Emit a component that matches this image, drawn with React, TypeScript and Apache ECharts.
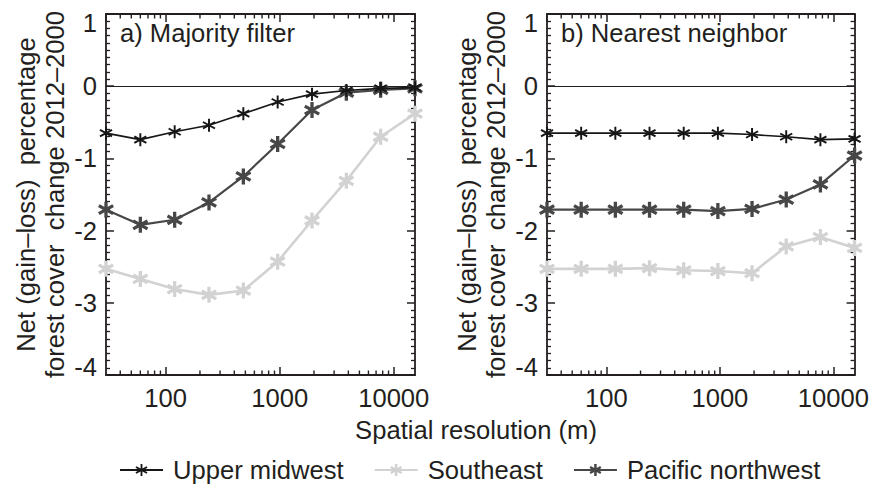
import React, { useEffect, useRef } from "react";
import * as echarts from "echarts";

// ---- data ----
const resolutions = [30, 60, 120, 240, 480, 960, 1920, 3840, 7680, 15360];
const seriesNames = ["Upper midwest", "Southeast", "Pacific northwest"];
const panelTitles = ["a) Majority filter", "b) Nearest neighbor"];

const majorityUpperMidwest = [-0.65, -0.74, -0.63, -0.54, -0.38, -0.22, -0.11, -0.06, -0.03, -0.02];
const majoritySoutheast = [-2.53, -2.67, -2.81, -2.89, -2.83, -2.43, -1.86, -1.31, -0.70, -0.38];
const majorityPacificNW = [-1.71, -1.92, -1.85, -1.61, -1.25, -0.80, -0.33, -0.09, -0.05, -0.03];

const nearestUpperMidwest = [-0.65, -0.65, -0.65, -0.65, -0.65, -0.65, -0.67, -0.70, -0.74, -0.73];
const nearestSoutheast = [-2.53, -2.53, -2.53, -2.52, -2.55, -2.56, -2.59, -2.22, -2.09, -2.24];
const nearestPacificNW = [-1.71, -1.71, -1.71, -1.71, -1.71, -1.73, -1.70, -1.57, -1.36, -0.96];

const minorXTicks = [40, 50, 60, 70, 80, 90, 200, 300, 400, 500, 600, 700, 800, 900, 2000, 3000, 4000, 5000, 6000, 7000, 8000, 9000];

const X_MIN = 30;
const X_MAX = 15360;
const Y_MIN = -4;
const Y_MAX = 1;

const yAxisName = "Net (gain\u2013loss)  percentage\nforest cover  change 2012\u20132000";
const xAxisName = "Spatial resolution (m)";

// ---- styles ----
const FONT = "Liberation Sans, Arial, Helvetica, sans-serif";
const TXT = "#231f20";
const FRAME = "#231f20";
const FS = 25.6;

const seriesStyles: Record<string, { color: string; width: number; size: number; arm: number }> = {
  "Upper midwest": { color: "#161616", width: 1.6, size: 13, arm: 7 },
  Southeast: { color: "#d2d2d2", width: 2.6, size: 16, arm: 10 },
  "Pacific northwest": { color: "#474747", width: 2.2, size: 16, arm: 10 },
};

function asteriskPath(h: number): string {
  const parts: string[] = [];
  for (const deg of [90, 30, 150]) {
    const t = (deg * Math.PI) / 180;
    const c = Math.cos(t);
    const s = Math.sin(t);
    const pts = [
      [-50, -h],
      [50, -h],
      [50, h],
      [-50, h],
    ].map(([u, v]) => [50 + u * c - v * s, 50 + u * s + v * c]);
    parts.push("M" + pts.map((p) => p[0].toFixed(2) + " " + p[1].toFixed(2)).join(" L") + " Z");
  }
  return "path://" + parts.join(" ");
}

const panels = [
  { left: 106, values: [majorityUpperMidwest, majoritySoutheast, majorityPacificNW] },
  { left: 547, values: [nearestUpperMidwest, nearestSoutheast, nearestPacificNW] },
];

export default function App() {
  const ref = useRef<HTMLDivElement>(null);
  useEffect(() => {
    if (!ref.current) return;
    const chart = echarts.init(ref.current, undefined, { renderer: "svg" });

    const grids: any[] = [];
    const xAxes: any[] = [];
    const yAxes: any[] = [];
    const series: any[] = [];
    const graphics: any[] = [];

    panels.forEach((p, gi) => {
      grids.push({ left: p.left, top: 14, width: 309, height: 361, containLabel: false });
      const xBase = {
        type: "log",
        logBase: 10,
        min: X_MIN,
        max: X_MAX,
        gridIndex: gi,
        splitLine: { show: false },
        axisLine: { show: true, onZero: false, lineStyle: { color: FRAME, width: 1.8 } },
        axisTick: { show: true, inside: true, length: 8, lineStyle: { color: FRAME, width: 1.5 } },
        minorTick: { show: false },
      };
      xAxes.push({
        ...xBase,
        position: "bottom",
        axisLabel: {
          show: true,
          margin: 10,
          fontSize: FS,
          fontFamily: FONT,
          color: TXT,
          showMinLabel: false,
          showMaxLabel: false,
          formatter: (v: number) => String(Math.round(v)),
        },
      });
      xAxes.push({ ...xBase, position: "top", axisLabel: { show: false } });

      const yBase = {
        type: "value",
        min: Y_MIN,
        max: Y_MAX,
        interval: 1,
        gridIndex: gi,
        splitLine: { show: false },
        axisLine: { show: true, onZero: false, lineStyle: { color: FRAME, width: 1.8 } },
        axisTick: { show: true, inside: true, length: 8, lineStyle: { color: FRAME, width: 1.5 } },
        minorTick: { show: true, splitNumber: 10, length: 4, lineStyle: { color: FRAME, width: 1.3 } },
      };
      yAxes.push({
        ...yBase,
        position: "left",
        name: yAxisName,
        nameLocation: "middle",
        nameRotate: 90,
        nameGap: 37,
        nameTextStyle: { fontSize: FS, fontFamily: FONT, color: TXT, lineHeight: 29 },
        axisLabel: {
          show: true,
          margin: 9,
          fontSize: FS,
          fontFamily: FONT,
          color: TXT,
          formatter: (v: number) => (v === Y_MAX ? "{t|" + v + "}" : v === Y_MIN ? "{b|" + v + "}" : String(v)),
          rich: {
            t: { fontSize: FS, fontFamily: FONT, color: TXT, padding: [17, 0, 0, 0] },
            b: { fontSize: FS, fontFamily: FONT, color: TXT, padding: [0, 0, 17, 0] },
          },
        },
      });
      yAxes.push({ ...yBase, position: "right", axisLabel: { show: false } });

      const xIdx = gi * 2;
      const yIdx = gi * 2;

      // minor log ticks (bottom & top)
      series.push({
        type: "custom",
        xAxisIndex: xIdx,
        yAxisIndex: yIdx,
        silent: true,
        clip: false,
        z: 1,
        data: minorXTicks.map((v) => [v, 0]),
        renderItem: (_params: any, api: any) => {
          const x = api.value(0);
          const b = api.coord([x, Y_MIN]);
          const t = api.coord([x, Y_MAX]);
          const st = { stroke: FRAME, lineWidth: 1.4 };
          return {
            type: "group",
            children: [
              { type: "line", shape: { x1: b[0], y1: b[1], x2: b[0], y2: b[1] - 4.5 }, style: st },
              { type: "line", shape: { x1: t[0], y1: t[1], x2: t[0], y2: t[1] + 4.5 }, style: st },
            ],
          };
        },
      });

      // order of drawing: Southeast (lightest) first
      const order = [1, 2, 0];
      order.forEach((si, k) => {
        const name = seriesNames[si];
        const st = seriesStyles[name];
        const s: any = {
          type: "line",
          name,
          xAxisIndex: xIdx,
          yAxisIndex: yIdx,
          data: resolutions.map((r, i) => [r, p.values[si][i]]),
          symbol: asteriskPath(st.arm),
          symbolSize: st.size,
          showSymbol: true,
          clip: false,
          z: 3 + k,
          lineStyle: { color: st.color, width: st.width },
          itemStyle: { color: st.color, borderWidth: 0 },
          emphasis: { disabled: true },
        };
        if (k === 0) {
          s.markLine = {
            silent: true,
            symbol: ["none", "none"],
            label: { show: false },
            lineStyle: { color: FRAME, width: 1.2, type: "solid" },
            data: [{ yAxis: 0 }],
            z: 2,
          };
        }
        series.push(s);
      });

      graphics.push({
        type: "text",
        left: p.left + 14,
        top: 20,
        style: { text: panelTitles[gi], fontSize: FS, fontFamily: FONT, fill: TXT },
      });
    });

    graphics.push({
      type: "text",
      x: 476,
      y: 430,
      style: {
        text: xAxisName,
        fontSize: FS,
        fontFamily: FONT,
        fill: TXT,
        align: "center",
        verticalAlign: "middle",
      },
    });

    chart.setOption({
      animation: false,
      backgroundColor: "#ffffff",
      grid: grids,
      xAxis: xAxes,
      yAxis: yAxes,
      series,
      graphic: graphics,
      legend: {
        data: seriesNames,
        left: 119,
        top: 457,
        padding: 0,
        itemWidth: 43,
        itemHeight: 15,
        itemGap: 30,
        selectedMode: false,
        textStyle: { fontSize: FS, fontFamily: FONT, color: TXT, padding: [0, 0, 0, 5] },
      },
    });

    return () => chart.dispose();
  }, []);

  return (
    <div
      ref={ref}
      style={{ position: "fixed", left: 0, top: 0, width: 872, height: 485, background: "#fff" }}
    />
  );
}
